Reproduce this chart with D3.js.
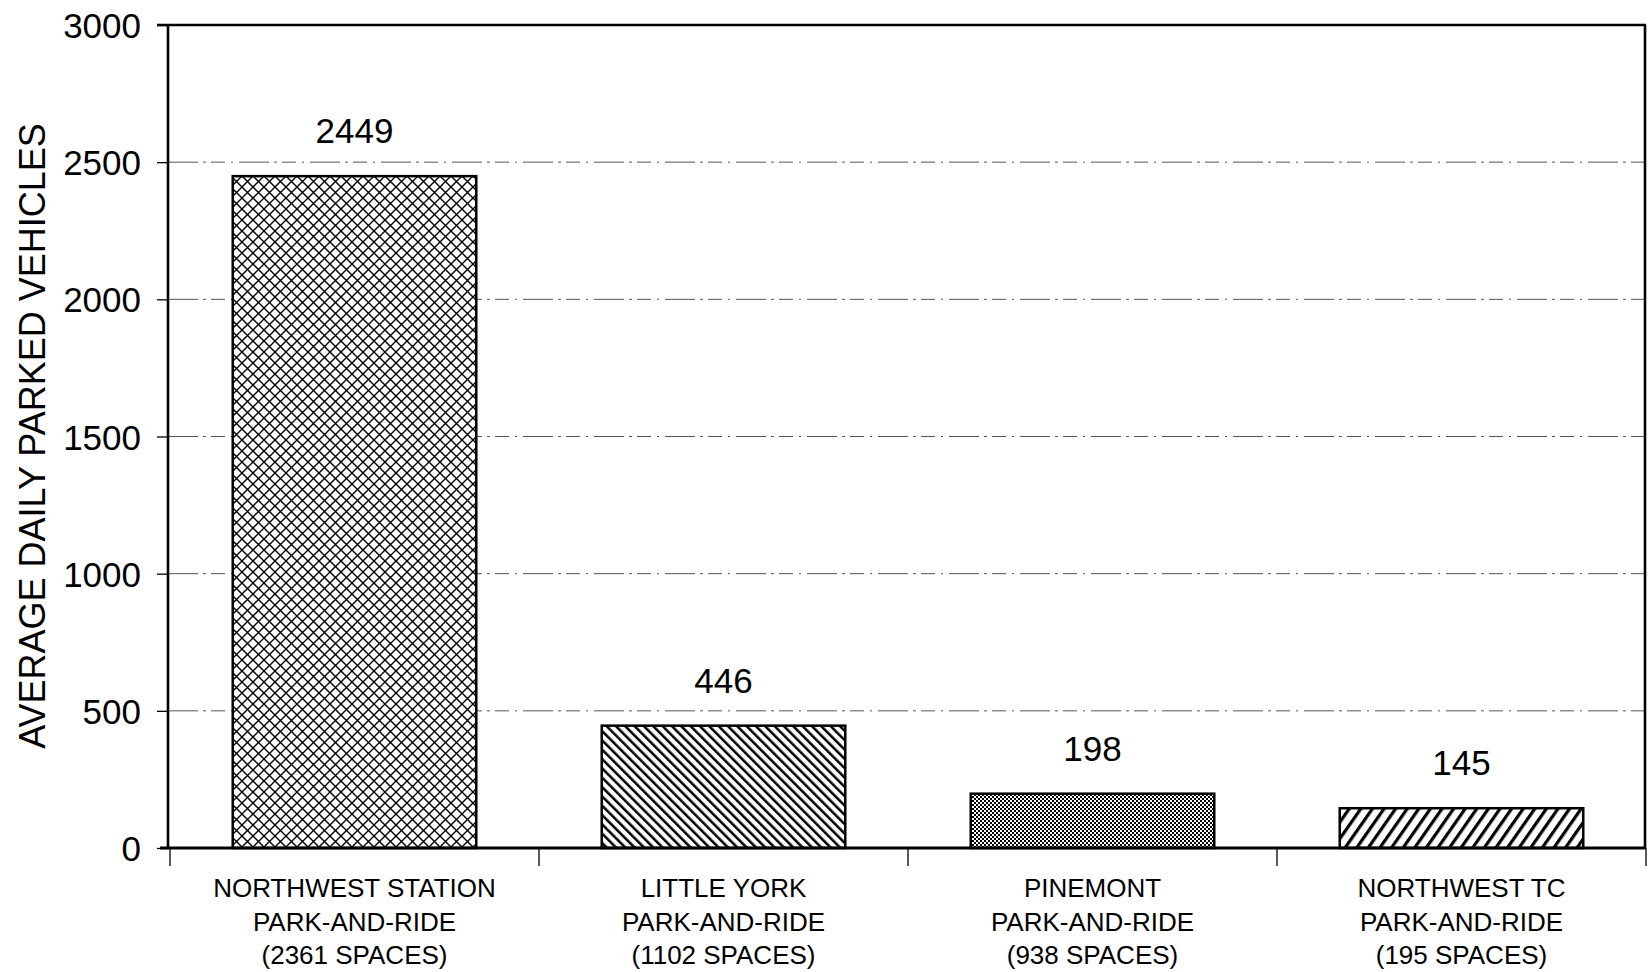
<!DOCTYPE html>
<html>
<head>
<meta charset="utf-8">
<script src="https://cdn.jsdelivr.net/npm/d3@7"></script>
<style>
  html, body { margin: 0; padding: 0; background: #fff; }
  svg { display: block; }
  text { font-family: "Liberation Sans", Arial, Helvetica, sans-serif; fill: #000; }
</style>
</head>
<body>
<svg id="chart" width="1650" height="972"></svg>
<script>
// ---- data ----
const categories = ["NORTHWEST STATION", "LITTLE YORK", "PINEMONT", "NORTHWEST TC"];
const categoryType = "PARK-AND-RIDE";
const spaces = [2361, 1102, 938, 195];
const parkedVehicles = [2449, 446, 198, 145];
const yTicks = [0, 500, 1000, 1500, 2000, 2500, 3000];
const yTitle = "AVERAGE DAILY PARKED VEHICLES";

// ---- styling ----
const fills = ["url(#crosshatch)", "url(#diagDown)", "url(#checker)", "url(#diagUp)"];

(function () {
const svg = d3.select("#chart");
const mLeft = 168, mRight = 1645, mTop = 25, mBottom = 848;

const y = d3.scaleLinear().domain([0, 3000]).range([mBottom, mTop]);
const x = d3.scaleBand().domain(categories).range([170, 1646]).paddingInner(0.34).paddingOuter(0.17);

// patterns
const defs = svg.append("defs");
const ch = defs.append("pattern").attr("id", "crosshatch").attr("patternUnits", "userSpaceOnUse")
  .attr("width", 11).attr("height", 11);
ch.append("rect").attr("width", 11).attr("height", 11).attr("fill", "#fff");
ch.append("path").attr("d", "M0,0L11,11M11,0L0,11").attr("stroke", "#000").attr("stroke-width", 1.4);

const dd = defs.append("pattern").attr("id", "diagDown").attr("patternUnits", "userSpaceOnUse")
  .attr("width", 6.6).attr("height", 10).attr("patternTransform", "rotate(-45)");
dd.append("rect").attr("width", 6.6).attr("height", 10).attr("fill", "#fff");
dd.append("rect").attr("x", 0).attr("width", 2.5).attr("height", 10).attr("fill", "#000");

const du = defs.append("pattern").attr("id", "diagUp").attr("patternUnits", "userSpaceOnUse")
  .attr("width", 9.5).attr("height", 10).attr("patternTransform", "rotate(35)");
du.append("rect").attr("width", 9.5).attr("height", 10).attr("fill", "#fff");
du.append("rect").attr("x", 0).attr("width", 3.2).attr("height", 10).attr("fill", "#000");

const ck = defs.append("pattern").attr("id", "checker").attr("patternUnits", "userSpaceOnUse")
  .attr("width", 4).attr("height", 4);
ck.append("rect").attr("width", 4).attr("height", 4).attr("fill", "#fff");
ck.append("rect").attr("x", 0).attr("y", 0).attr("width", 2).attr("height", 2).attr("fill", "#000");
ck.append("rect").attr("x", 2).attr("y", 2).attr("width", 2).attr("height", 2).attr("fill", "#000");

// gridlines
svg.append("g").selectAll("line")
  .data(yTicks.filter(t => t > 0 && t < 3000))
  .join("line")
  .attr("x1", mLeft).attr("x2", mRight)
  .attr("y1", d => y(d)).attr("y2", d => y(d))
  .attr("stroke", "#555").attr("stroke-width", 1)
  .attr("stroke-dasharray", "30,5,3,5,14,6,2,6");

// bars
svg.append("g").selectAll("rect")
  .data(parkedVehicles)
  .join("rect")
  .attr("x", (d, i) => x(categories[i]))
  .attr("width", x.bandwidth())
  .attr("y", d => y(d))
  .attr("height", d => y(0) - y(d))
  .attr("fill", (d, i) => fills[i])
  .attr("stroke", "#000").attr("stroke-width", 2.5);

// value labels
svg.append("g").selectAll("text")
  .data(parkedVehicles)
  .join("text")
  .attr("x", (d, i) => x(categories[i]) + x.bandwidth() / 2)
  .attr("y", d => y(d) - 33)
  .attr("text-anchor", "middle")
  .attr("font-size", 35)
  .text(d => d);

// y axis
const yAxis = svg.append("g").attr("transform", `translate(${mLeft},0)`)
  .call(d3.axisLeft(y).tickValues(yTicks).tickFormat(d3.format("d"))
    .tickSize(11).tickSizeOuter(0).tickPadding(16));
yAxis.select(".domain").remove();
yAxis.selectAll(".tick line").attr("stroke", "#000").attr("stroke-width", 1.3);
yAxis.selectAll(".tick text").attr("font-size", 35)
  .attr("font-family", '"Liberation Sans", Arial, sans-serif').attr("fill", "#000").attr("dy", "0.36em");

// frame
svg.append("line").attr("x1", mLeft).attr("x2", mLeft).attr("y1", mTop).attr("y2", mBottom)
  .attr("stroke", "#000").attr("stroke-width", 2.6);
svg.append("line").attr("x1", mLeft - 11).attr("x2", mRight + 1).attr("y1", mTop).attr("y2", mTop)
  .attr("stroke", "#000").attr("stroke-width", 2.6);
svg.append("line").attr("x1", mRight).attr("x2", mRight).attr("y1", mTop).attr("y2", mBottom)
  .attr("stroke", "#000").attr("stroke-width", 2.6);
svg.append("line").attr("x1", mLeft - 8).attr("x2", mRight + 1).attr("y1", mBottom).attr("y2", mBottom)
  .attr("stroke", "#000").attr("stroke-width", 3);

// x ticks at band boundaries
const x0 = x.range()[0];
svg.append("g").selectAll("line")
  .data(d3.range(categories.length + 1))
  .join("line")
  .attr("x1", i => x0 + i * x.step()).attr("x2", i => x0 + i * x.step())
  .attr("y1", mBottom).attr("y2", mBottom + 18)
  .attr("stroke", "#000").attr("stroke-width", 1.3);

// category labels
const cl = svg.append("g").selectAll("text")
  .data(categories)
  .join("text")
  .attr("text-anchor", "middle")
  .attr("font-size", 26)
  .attr("x", d => x(d) + x.bandwidth() / 2);
cl.append("tspan").attr("x", d => x(d) + x.bandwidth() / 2).attr("y", 897).text(d => d);
cl.append("tspan").attr("x", d => x(d) + x.bandwidth() / 2).attr("y", 931).text(categoryType);
cl.append("tspan").attr("x", d => x(d) + x.bandwidth() / 2).attr("y", 964)
  .text((d, i) => `(${spaces[i]} SPACES)`);

// y title
svg.append("text")
  .attr("transform", `translate(45,436) rotate(-90)`)
  .attr("text-anchor", "middle")
  .attr("font-size", 36)
  .text(yTitle);
})();
</script>
</body>
</html>
